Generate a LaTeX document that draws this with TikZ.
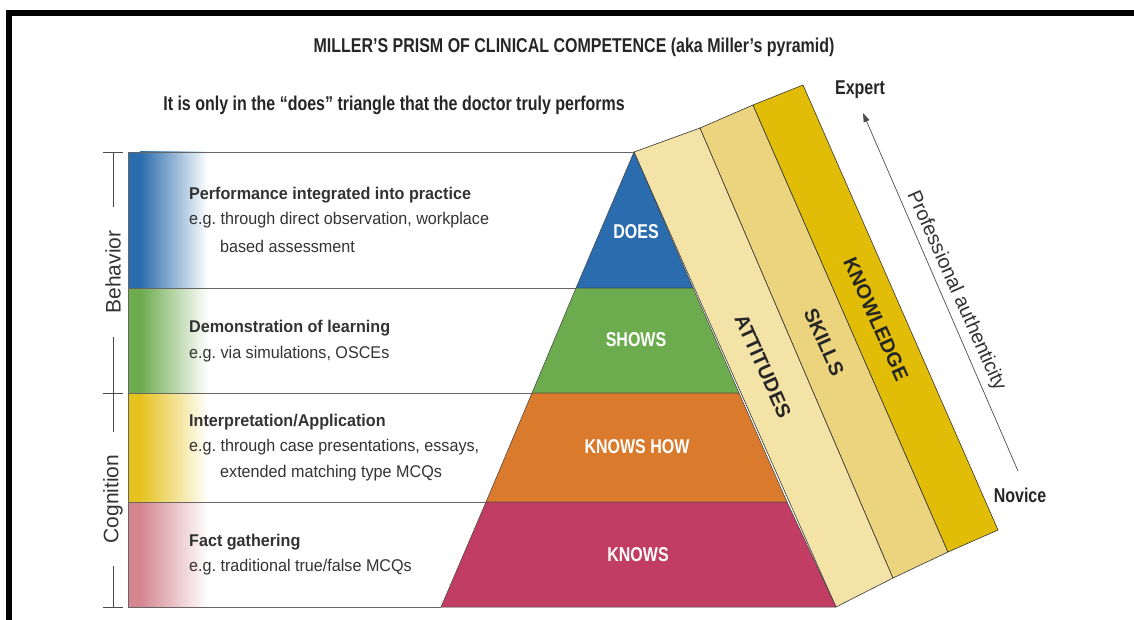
\documentclass[tikz,border=0pt]{standalone}
\usepackage{fontspec}
\setmainfont[FakeStretch=0.80]{Liberation Sans}
\newfontfamily\bodyfont[FakeStretch=0.95]{Liberation Sans}
\newfontfamily\widefont{Liberation Sans}
\frenchspacing
\usetikzlibrary{arrows.meta}
\definecolor{txt}{HTML}{333333}
\definecolor{cdoes}{HTML}{2A6CAD}
\definecolor{cshows}{HTML}{6DAB4F}
\definecolor{chow}{HTML}{D97A2D}
\definecolor{cknows}{HTML}{C13D63}
\definecolor{cyel}{HTML}{E6C21E}
\definecolor{cpink}{HTML}{D4868F}
\definecolor{catt}{HTML}{F4E3A6}
\definecolor{cskill}{HTML}{ECD47E}
\definecolor{cknow}{HTML}{E2BD08}
\tikzset{
  rowline/.style={draw=black!60, line width=0.9pt},
  seg/.style={draw=black!75, line width=0.5pt},
  band/.style={draw=black!80, line width=0.6pt},
  ttl/.style={font=\fontsize{20}{24}\selectfont\bfseries, text=black!85, inner sep=0pt},
  head/.style={anchor=west, font=\bodyfont\fontsize{17}{20}\selectfont\bfseries, text=txt, inner sep=0pt},
  body/.style={anchor=west, font=\bodyfont\fontsize{17}{20}\selectfont, text=txt, inner sep=0pt},
  plabel/.style={font=\fontsize{20}{24}\selectfont\bfseries, text=white, inner sep=0pt},
  blabel/.style={font=\widefont\fontsize{20}{24}\selectfont\bfseries, text=black!85, inner sep=0pt, rotate=-66},
  side/.style={font=\widefont\fontsize{21}{24}\selectfont, text=txt, inner sep=0pt, rotate=90},
  brk/.style={draw=black!70, line width=0.7pt}
}
\begin{document}
\begin{tikzpicture}[x=1pt,y=-1pt]
\useasboundingbox (0,0) rectangle (1134,620);
% frame
\fill[black] (6,10) rectangle (1134,16);
\fill[black] (6,10) rectangle (12,620);
% titles
\node[ttl] (title) at (574,47) {MILLER’S PRISM OF CLINICAL COMPETENCE (aka Miller’s pyramid)};
\node[ttl] (subtitle) at (394,105) {It is only in the “does” triangle that the doctor truly performs};
% gradient bars
\fill[cdoes] (128,152) rectangle (140,288);
\shade[left color=cdoes, right color=white] (140,152) rectangle (208,288);
\fill[cshows] (128,288) rectangle (140,393);
\shade[left color=cshows, right color=white] (140,288) rectangle (208,393);
\fill[cyel] (128,393) rectangle (140,502);
\shade[left color=cyel, right color=white] (140,393) rectangle (208,502);
\fill[cpink] (128,502) rectangle (140,607);
\shade[left color=cpink, right color=white] (140,502) rectangle (208,607);
% row lines
\draw[rowline] (128,152) -- (634,152);
\draw[rowline] (128,288) -- (576,288);
\draw[rowline] (128,393) -- (532,393);
\draw[rowline] (128,502) -- (486,502);
\draw[rowline] (128,607) -- (441,607);
\draw[rowline] (128,152) -- (128,607);
% bands
\coordinate (P0) at (634,152);
\coordinate (P1) at (836,607);
\coordinate (T1) at (700,128);
\coordinate (T2) at (753,105);
\coordinate (T3) at (803,85);
\coordinate (B1) at (893,578);
\coordinate (B2) at (948,552);
\coordinate (B3) at (998,530);
\filldraw[band, fill=catt] (P0) -- (T1) -- (B1) -- (P1) -- cycle;
\filldraw[band, fill=cskill] (T1) -- (T2) -- (B2) -- (B1) -- cycle;
\filldraw[band, fill=cknow] (T2) -- (T3) -- (B3) -- (B2) -- cycle;
% pyramid
\filldraw[seg, fill=cdoes] (634,152) -- (576,288) -- (693,288) -- cycle;
\filldraw[seg, fill=cshows] (576,288) -- (532,393) -- (739,393) -- (693,288) -- cycle;
\filldraw[seg, fill=chow] (532,393) -- (486,502) -- (787,502) -- (739,393) -- cycle;
\filldraw[seg, fill=cknows] (486,502) -- (441,607) -- (836,607) -- (787,502) -- cycle;
\node[plabel] (does) at (636,232) {DOES};
\node[plabel] (shows) at (636,340) {SHOWS};
\node[plabel] (knowshow) at (637,447) {KNOWS HOW};
\node[plabel] (knows) at (638,555) {KNOWS};
\node[blabel] (att) at (763,366) {ATTITUDES};
\node[blabel] (skills) at (824,342) {SKILLS};
\node[blabel] (know) at (876,319) {KNOWLEDGE};
% row texts
\node[head] (h1) at (189,195) {Performance integrated into practice};
\node[body] (b1a) at (189,220) {e.g. through direct observation, workplace};
\node[body] (b1b) at (220,246) {based assessment};
\node[head] (h2) at (189,328) {Demonstration of learning};
\node[body] (b2a) at (189,354) {e.g. via simulations, OSCEs};
\node[head] (h3) at (189,422) {Interpretation/Application};
\node[body] (b3a) at (189,447) {e.g. through case presentations, essays,};
\node[body] (b3b) at (220,473) {extended matching type MCQs};
\node[head] (h4) at (189,542) {Fact gathering};
\node[body] (b4a) at (189,567) {e.g. traditional true/false MCQs};
% brackets
\draw[brk] (103,152) -- (123,152);
\draw[brk] (103,393) -- (123,393);
\draw[brk] (103,607) -- (123,607);
\draw[brk] (113,152) -- (113,207);
\draw[brk] (113,337) -- (113,432);
\draw[brk] (113,566) -- (113,607);
\node[side] (beh) at (113,272) {Behavior};
\node[side] (cog) at (113,499) {Cognition};
% authenticity arrow
\coordinate (novend) at (1018,471);
\coordinate (expend) at (863,113);
\draw[draw=black!70, line width=0.7pt, -{Triangle[length=9pt,width=6pt]}] (novend) -- (expend);
\node[font=\widefont\fontsize{20}{24}\selectfont, text=txt, inner sep=0pt, rotate=-66] (pa) at (956,291) {Professional authenticity};
\node[ttl] (expert) at (860,90) {Expert};
\node[ttl] (novice) at (1020,495) {Novice};
\end{tikzpicture}
\end{document}
